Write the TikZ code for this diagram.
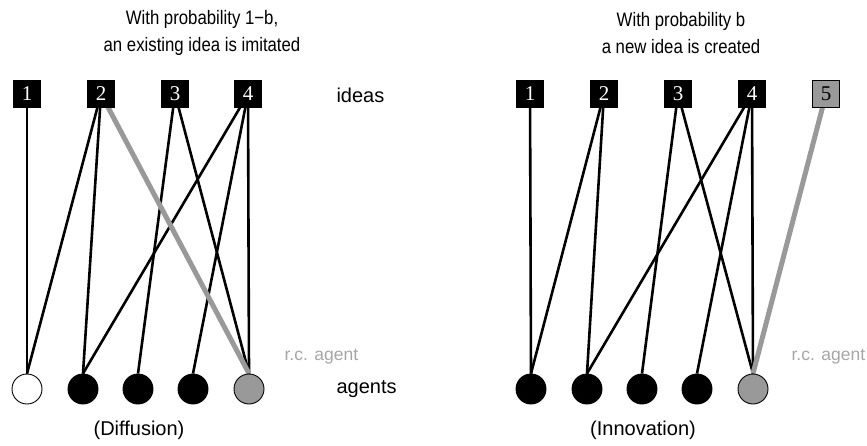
\documentclass[tikz,border=0pt]{standalone}
\usepackage{fontspec}
\setmainfont{Liberation Serif}
\setsansfont{Liberation Sans}
\newfontfamily\narrowsans[FakeStretch=0.86]{Liberation Sans}
\usetikzlibrary{backgrounds}
\definecolor{rcgray}{HTML}{999999}
\definecolor{lblgray}{HTML}{A6A6A6}
\tikzset{
  idea/.style={draw=black, fill=black, text=white, minimum size=27pt, inner sep=0pt,
    font=\fontsize{21}{21}\selectfont\rmfamily},
  newidea/.style={idea, fill=rcgray, text=black, line width=0.8pt},
  agent/.style={circle, draw=black, line width=0.9pt, fill=black, minimum size=30pt, inner sep=0pt},
  link/.style={line width=2.6pt, black},
  rclink/.style={line width=5pt, rcgray},
  label/.style={font=\fontsize{20}{20}\selectfont\sffamily},
  title/.style={font=\fontsize{19.5}{27}\selectfont\narrowsans, align=center},
  rclabel/.style={font=\fontsize{17.5}{17.5}\selectfont\sffamily, text=lblgray}
}
\begin{document}
\begin{tikzpicture}[x=1pt, y=-1pt]
\useasboundingbox (0,0) rectangle (867,445);

% ---- Diffusion panel ----
\node[title] (t1) at (202,33) {With probability 1\textminus b,\\an existing idea is imitated};
\foreach \i/\x in {1/27,2/101,3/175,4/248}
  \node[idea] (dI\i) at (\x,94) {\i};
\node[agent, fill=white] (dA1) at (27,389) {};
\node[agent] (dA2) at (83,389) {};
\node[agent] (dA3) at (138,389) {};
\node[agent] (dA4) at (193,389) {};
\node[agent, fill=rcgray] (dA5) at (249,389) {};
\node[label, anchor=west] (ideas) at (333,95) {ideas};
\node[label, anchor=west] (agents) at (333,389) {agents};
\node[rclabel, anchor=west] (rc1) at (281,357) {r.c. agent};
\node[label] (cap1) at (139,430) {(Diffusion)};

\begin{scope}[on background layer]
  \draw[link] (dI1.center) -- (dA1.north);
  \draw[link] (dI2.center) -- (dA1.north);
  \draw[link] (dI2.center) -- (dA2.north);
  \draw[link] (dI3.center) -- (dA3.north);
  \draw[link] (dI3.center) -- (dA5.north);
  \draw[link] (dI4.center) -- (dA2.north);
  \draw[link] (dI4.center) -- (dA4.north);
  \draw[link] (dI4.center) -- (dA5.north);
  \draw[rclink] (dI2.center) -- (dA5.north);
\end{scope}

% ---- Innovation panel ----
\node[title] (t2) at (681,33) {With probability b\\a new idea is created};
\foreach \i/\x in {1/530,2/604,3/678,4/752}
  \node[idea] (nI\i) at (\x,94) {\i};
\node[newidea] (nI5) at (826,94) {5};
\node[agent] (nA1) at (531,389) {};
\node[agent] (nA2) at (587,389) {};
\node[agent] (nA3) at (642,389) {};
\node[agent] (nA4) at (697,389) {};
\node[agent, fill=rcgray] (nA5) at (753,389) {};
\node[rclabel, anchor=west] (rc2) at (788,357) {r.c. agent};
\node[label] (cap2) at (643,430) {(Innovation)};

\begin{scope}[on background layer]
  \draw[link] (nI1.center) -- (nA1.north);
  \draw[link] (nI2.center) -- (nA1.north);
  \draw[link] (nI2.center) -- (nA2.north);
  \draw[link] (nI3.center) -- (nA3.north);
  \draw[link] (nI3.center) -- (nA5.north);
  \draw[link] (nI4.center) -- (nA2.north);
  \draw[link] (nI4.center) -- (nA4.north);
  \draw[link] (nI4.center) -- (nA5.north);
  \draw[rclink] (nI5.center) -- (nA5.north);
\end{scope}
\end{tikzpicture}
\end{document}
